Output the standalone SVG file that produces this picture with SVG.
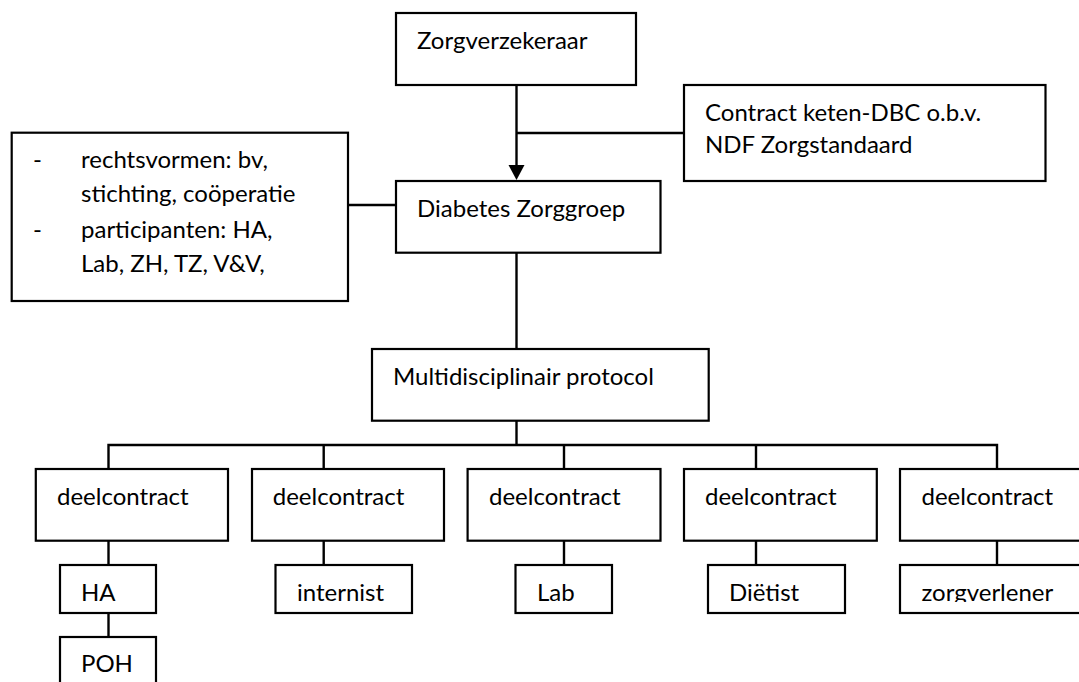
<svg xmlns="http://www.w3.org/2000/svg" width="1079" height="682" viewBox="0 0 1079 682">
  <style>
    .box { fill: #ffffff; stroke: #000000; stroke-width: 2.2; }
    .line { fill: none; stroke: #000000; stroke-width: 2.4; }
    .label { font-family: Lato, "Liberation Sans", sans-serif; font-size: 24px; fill: #000000; }
  </style>
  <defs>
    <clipPath id="clip-zorgverlener">
      <rect x="900" y="565" width="200" height="37"/>
    </clipPath>
  </defs>
  <rect x="0" y="0" width="1079" height="682" fill="#ffffff"/>

  <!-- connectors -->
  <g id="connectors">
    <line class="line" x1="516.5" y1="85" x2="516.5" y2="166"/>
    <polygon points="508.5,165 524.5,165 516.5,180" fill="#000000"/>
    <line class="line" x1="516.5" y1="133" x2="684" y2="133"/>
    <line class="line" x1="348" y1="205" x2="396" y2="205"/>
    <line class="line" x1="516.5" y1="253" x2="516.5" y2="349"/>
    <line class="line" x1="516.5" y1="421" x2="516.5" y2="445"/>
    <polyline class="line" points="108.5,469 108.5,445 997,445 997,469"/>
    <line class="line" x1="323.7" y1="445" x2="323.7" y2="469"/>
    <line class="line" x1="564" y1="445" x2="564" y2="469"/>
    <line class="line" x1="756" y1="445" x2="756" y2="469"/>
    <line class="line" x1="108.5" y1="541" x2="108.5" y2="565"/>
    <line class="line" x1="323.7" y1="541" x2="323.7" y2="565"/>
    <line class="line" x1="564" y1="541" x2="564" y2="565"/>
    <line class="line" x1="756" y1="541" x2="756" y2="565"/>
    <line class="line" x1="997" y1="541" x2="997" y2="565"/>
    <line class="line" x1="108.5" y1="613" x2="108.5" y2="637"/>
  </g>

  <g id="zorgverzekeraar">
    <rect class="box" x="396" y="13" width="240" height="72"/>
    <text class="label" x="417" y="49">Zorgverzekeraar</text>
  </g>

  <g id="contract">
    <rect class="box" x="684" y="85" width="361.5" height="96"/>
    <text class="label" x="705" y="121">Contract keten-DBC o.b.v.</text>
    <text class="label" x="705" y="153">NDF Zorgstandaard</text>
  </g>

  <g id="rechtsvormen">
    <rect class="box" x="11.7" y="132.7" width="336.3" height="168.3"/>
    <text class="label" x="33" y="168">-</text>
    <text class="label" x="81" y="168">rechtsvormen: bv,</text>
    <text class="label" x="81" y="201.7">stichting, coöperatie</text>
    <text class="label" x="33" y="238">-</text>
    <text class="label" x="81" y="238">participanten: HA,</text>
    <text class="label" x="81" y="271.7">Lab, ZH, TZ, V&amp;V,</text>
  </g>

  <g id="diabetes-zorggroep">
    <rect class="box" x="396" y="181" width="264.5" height="71.7"/>
    <text class="label" x="417" y="217">Diabetes Zorggroep</text>
  </g>

  <g id="multidisciplinair-protocol">
    <rect class="box" x="372" y="349" width="336.7" height="71.7"/>
    <text class="label" x="393" y="385">Multidisciplinair protocol</text>
  </g>

  <g id="deelcontract-1">
    <rect class="box" x="35.8" y="469" width="192.2" height="71.7"/>
    <text class="label" x="57" y="505">deelcontract</text>
  </g>
  <g id="deelcontract-2">
    <rect class="box" x="252" y="469" width="192" height="71.7"/>
    <text class="label" x="272.7" y="505">deelcontract</text>
  </g>
  <g id="deelcontract-3">
    <rect class="box" x="467.6" y="469" width="192.9" height="71.7"/>
    <text class="label" x="489" y="505">deelcontract</text>
  </g>
  <g id="deelcontract-4">
    <rect class="box" x="684" y="469" width="192.8" height="71.7"/>
    <text class="label" x="705" y="505">deelcontract</text>
  </g>
  <g id="deelcontract-5">
    <rect class="box" x="900" y="469" width="192" height="71.7"/>
    <text class="label" x="921.5" y="505">deelcontract</text>
  </g>

  <g id="ha">
    <rect class="box" x="60" y="565" width="96" height="48"/>
    <text class="label" x="81" y="600.5">HA</text>
  </g>
  <g id="poh">
    <rect class="box" x="60" y="637" width="96" height="60"/>
    <text class="label" x="81" y="671.7">POH</text>
  </g>
  <g id="internist">
    <rect class="box" x="275.5" y="565" width="136.5" height="48"/>
    <text class="label" x="297" y="600.5">internist</text>
  </g>
  <g id="lab">
    <rect class="box" x="515.5" y="565" width="96.5" height="48"/>
    <text class="label" x="537" y="600.5">Lab</text>
  </g>
  <g id="dietist">
    <rect class="box" x="708" y="565" width="137" height="48"/>
    <text class="label" x="729" y="600.5">Diëtist</text>
  </g>
  <g id="zorgverlener">
    <rect class="box" x="900" y="565" width="192" height="48"/>
    <text class="label" x="921.5" y="600.5" clip-path="url(#clip-zorgverlener)">zorgverlener</text>
  </g>
</svg>
